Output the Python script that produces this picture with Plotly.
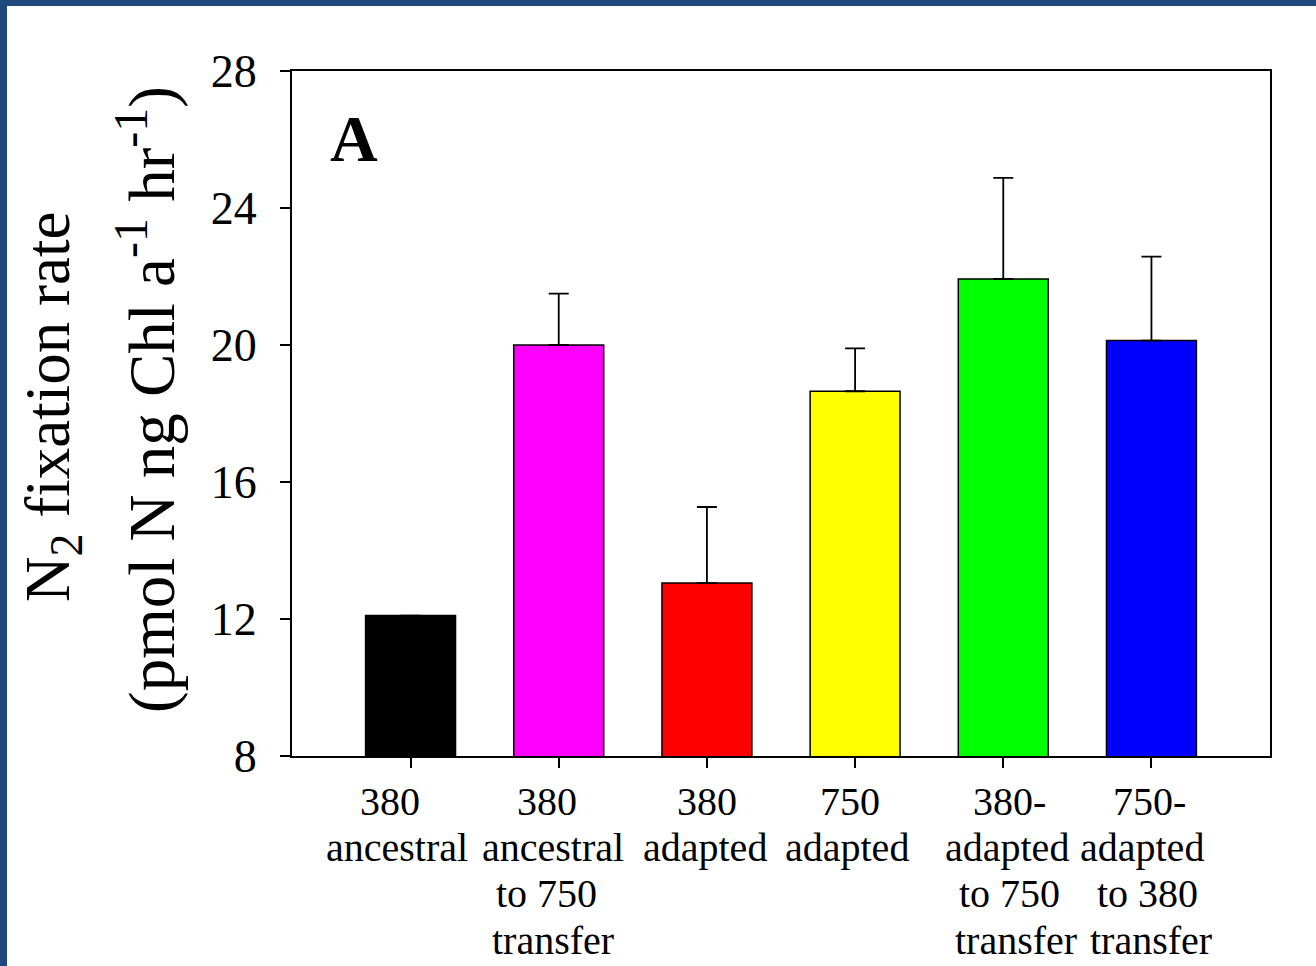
import plotly.graph_objects as go

# ---- data ----
categories = ["380 ancestral", "380 ancestral to 750 transfer", "380 adapted",
              "750 adapted", "380-adapted to 750 transfer", "750-adapted to 380 transfer"]
label_lines = [
    ["380", "ancestral"],
    ["380", "ancestral", "to 750", "transfer"],
    ["380", "adapted"],
    ["750", "adapted"],
    ["380-", "adapted", "to 750", "transfer"],
    ["750-", "adapted", "to 380", "transfer"],
]
rates = [12.1, 20.0, 13.05, 18.65, 21.93, 20.13]
errors = [0.0, 1.5, 2.22, 1.25, 2.95, 2.45]
bar_colors = ["#000000", "#FF00FF", "#FF0000", "#FFFF00", "#00FF00", "#0000FF"]
y_ticks = [8, 12, 16, 20, 24, 28]

# ---- style: small horizontal nudges of label lines (pixels), as in the original ----
label_nudge = [
    [-21, -14],
    [-12, -6, -12, -6],
    [0, -2],
    [-5, -8],
    [6, 4, 6, 13],
    [-2, -9, -4, 0],
]

# ---- layout geometry (pixels) ----
W, H = 1316, 966
L, R, T, B = 292, 46, 71, 210
PW, PH = W - L - R, H - T - B
FONT = "Liberation Serif"

def px_x(px):
    return (px - L) / PW

def px_y(py):
    return (H - B - py) / PH

xs = list(range(len(categories)))

fig = go.Figure()
fig.add_trace(go.Bar(
    x=xs, y=rates, width=0.607,
    marker=dict(color=bar_colors, line=dict(color="black", width=1.5)),
    error_y=dict(type="data", symmetric=False, array=errors,
                 arrayminus=[0] * len(errors), color="black", thickness=1.8, width=10),
    showlegend=False, hovertext=categories,
))

annotations = []
line_centers = [801, 847, 893, 940]
for i, lines in enumerate(label_lines):
    for j, t in enumerate(lines):
        annotations.append(dict(
            x=xs[i], xref="x", y=px_y(line_centers[j]), yref="paper",
            xshift=label_nudge[i][j],
            text=t, showarrow=False, xanchor="center", yanchor="middle",
            font=dict(family=FONT, size=40, color="black"),
        ))

sup = '<sup><span style="font-size:48px">-1</span></sup>'
annotations.append(dict(
    x=px_x(52), xref="paper", y=px_y(407), yref="paper",
    text='N<sub><span style="font-size:46px">2</span></sub> fixation rate',
    textangle=-90, showarrow=False, xanchor="center", yanchor="middle",
    font=dict(family=FONT, size=63, color="black"),
))
annotations.append(dict(
    x=px_x(146), xref="paper", y=px_y(400), yref="paper",
    text="(pmol N ng Chl a" + sup + " hr" + sup + ")", textangle=-90, showarrow=False,
    xanchor="center", yanchor="middle",
    font=dict(family=FONT, size=65, color="black"),
))
annotations.append(dict(
    x=px_x(354), xref="paper", y=px_y(138), yref="paper",
    text="<b>A</b>", showarrow=False, xanchor="center", yanchor="middle",
    font=dict(family=FONT, size=66, color="black"),
))

shapes = [
    dict(type="rect", xref="paper", yref="paper",
         x0=px_x(0), x1=px_x(W), y0=px_y(6), y1=px_y(0),
         fillcolor="#1F497D", line=dict(width=0), layer="above"),
    dict(type="rect", xref="paper", yref="paper",
         x0=px_x(0), x1=px_x(7), y0=px_y(H), y1=px_y(0),
         fillcolor="#1F497D", line=dict(width=0), layer="above"),
]

fig.update_layout(
    width=W, height=H,
    margin=dict(l=L, r=R, t=T, b=B, pad=0),
    paper_bgcolor="white", plot_bgcolor="white",
    annotations=annotations, shapes=shapes,
    xaxis=dict(range=[-0.8, 5.8], tickvals=xs,
               showticklabels=False, ticks="outside", ticklen=10, tickwidth=1.5,
               tickcolor="black", showline=True, linecolor="black", linewidth=2,
               mirror=True, showgrid=False, zeroline=False, fixedrange=True),
    yaxis=dict(range=[8, 28], tickvals=y_ticks, ticks="outside", ticklen=10,
               tickwidth=1.5, tickcolor="black", showline=True, linecolor="black",
               linewidth=2, mirror=True, showgrid=False, zeroline=False,
               tickfont=dict(family=FONT, size=46, color="black"),
               ticklabelstandoff=14, fixedrange=True),
)

fig.write_html("out.html")
